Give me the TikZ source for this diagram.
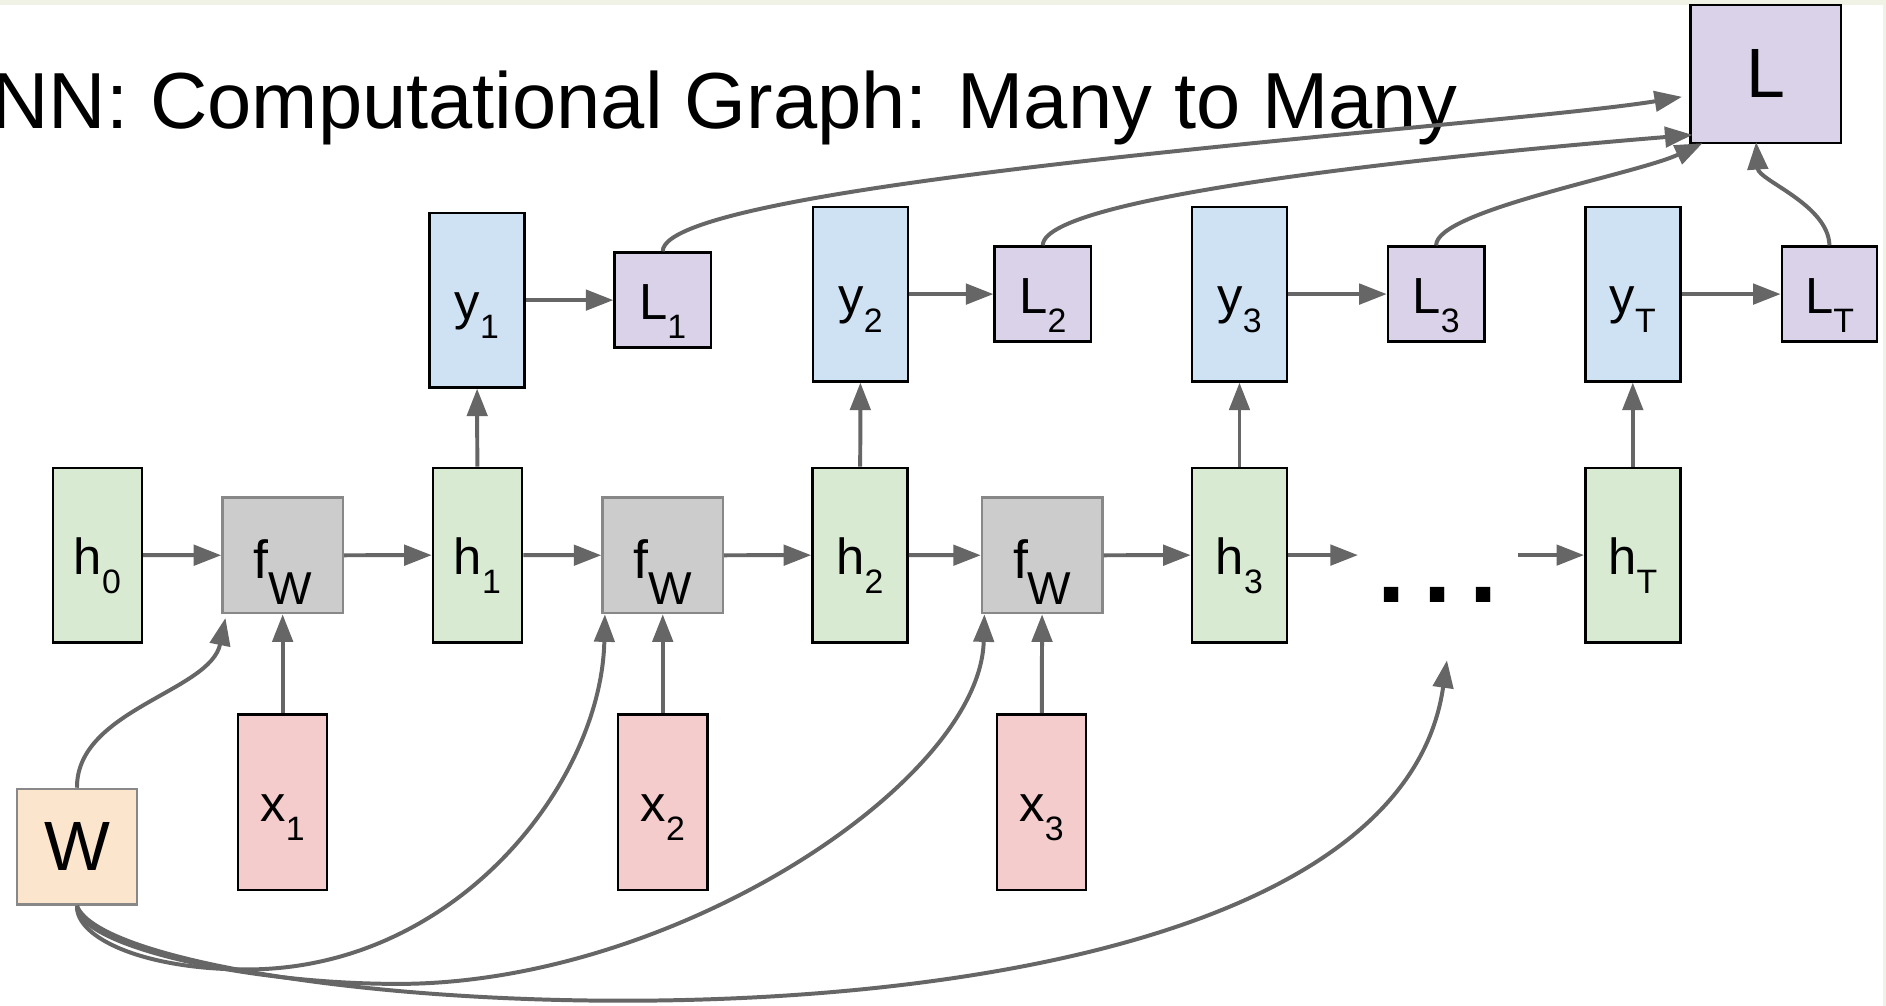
\documentclass[tikz,border=0pt]{standalone}
\usepackage{fontspec}
\setmainfont{Liberation Sans}
\usetikzlibrary{arrows.meta}
\definecolor{hgreen}{HTML}{D9EAD3}
\definecolor{fgray}{HTML}{CCCCCC}
\definecolor{yblue}{HTML}{CFE2F3}
\definecolor{lpurple}{HTML}{D9D2E9}
\definecolor{xpink}{HTML}{F4CCCC}
\definecolor{wpeach}{HTML}{FCE5CD}
\definecolor{arrgray}{HTML}{666666}
\definecolor{edgegray}{HTML}{888888}
\definecolor{stripbg}{RGB}{239,242,229}
\newcommand{\lsub}[1]{\raisebox{-4.6pt}[0pt][0pt]{\fontsize{8}{9}\selectfont #1}}
\newcommand{\wsub}[1]{\raisebox{-6.1pt}[0pt][0pt]{\fontsize{10.9}{12}\selectfont #1}}
\begin{document}
\begin{tikzpicture}[x=0.01cm, y=-0.01cm]
% Styles
\tikzset{
box/.style={draw, line width=0.6pt, rectangle, inner sep=0pt, font=\fontsize{12}{14}\selectfont, text height=9pt, text depth=0pt},
hid/.style={box, fill=hgreen, minimum width=0.79cm, minimum height=1.45cm},
fun/.style={box, draw=edgegray, fill=fgray, minimum width=1cm, minimum height=0.96cm, font=\fontsize{12.7}{14}\selectfont, text height=11pt},
outp/.style={box, fill=yblue, minimum width=0.79cm, minimum height=1.45cm},
loss/.style={box, fill=lpurple, minimum width=0.8cm, minimum height=0.79cm},
inp/.style={box, fill=xpink, minimum width=0.74cm, minimum height=1.46cm},
big/.style={box, minimum width=1.25cm, minimum height=1.15cm, font=\fontsize{16.5}{18}\selectfont, text height=, text depth=},
arr/.style={draw=arrgray, line width=0.94pt, -{Triangle[length=6.5pt, width=4.8pt]}}
}
\useasboundingbox (0,0) rectangle (1568,836);
\fill[stripbg] (0,0) rectangle (1568,836);
\fill[white] (0,4) rectangle (1565.5,836);
\clip (0,0) rectangle (1568,836);
% Title
\node[anchor=base west, inner sep=0pt, font=\fontsize{18.8}{23}\selectfont] (title) at (-8,106.6) {NN: Computational Graph: Many to Many};
% Hidden states and cells
\node[hid, minimum width=0.74cm] (h0) at (81,461.5) {h\lsub{0}};
\node[fun] (fW1) at (235,461.7) {f\wsub{W}};
\node[hid, minimum width=0.74cm] (h1) at (397,461.5) {h\lsub{1}};
\node[fun] (fW2) at (551,461.7) {f\wsub{W}};
\node[hid] (h2) at (715,461.5) {h\lsub{2}};
\node[fun] (fW3) at (866.5,461.7) {f\wsub{W}};
\node[hid] (h3) at (1030.5,461.5) {h\lsub{3}};
\node[anchor=base, inner sep=0pt, font=\fontsize{24}{28}\selectfont\bfseries] (dots) at (1195.4,501) {.\hspace{0.146cm}.\hspace{0.146cm}.};
\node[hid] (hT) at (1357.5,461.5) {h\lsub{T}};
\coordinate (dotsin) at (1129,461.5);
\coordinate (dotsout) at (1262,461.5);
\coordinate (dotsw) at (1203,549);
% Outputs and losses
\node[outp] (y1) at (396.5,249.5) {y\lsub{1}};
\node[loss] (L1) at (551,249.5) {L\lsub{1}};
\node[outp] (y2) at (715.5,244.5) {y\lsub{2}};
\node[loss] (L2) at (867,244.5) {L\lsub{2}};
\node[outp] (y3) at (1030.5,244.5) {y\lsub{3}};
\node[loss] (L3) at (1194,244.5) {L\lsub{3}};
\node[outp] (yT) at (1357.5,244.5) {y\lsub{T}};
\node[loss, minimum width=0.79cm] (LT) at (1521,244.5) {L\lsub{T}};
\node[big, fill=lpurple] (L) at (1468,61.5) {L};
% Inputs and weights
\node[inp] (x1) at (235,667) {x\lsub{1}};
\node[inp] (x2) at (551,667) {x\lsub{2}};
\node[inp] (x3) at (866,667) {x\lsub{3}};
\node[big, draw=edgegray, fill=wpeach, minimum width=1cm, minimum height=0.96cm] (W) at (64,704) {W};
% Straight arrows
\draw[arr] (h0) -- (fW1);
\draw[arr] (fW1) -- (h1);
\draw[arr] (h1) -- (fW2);
\draw[arr] (fW2) -- (h2);
\draw[arr] (h2) -- (fW3);
\draw[arr] (fW3) -- (h3);
\draw[arr] (h3) -- (dotsin);
\draw[arr] (dotsout) -- (hT);
\draw[arr] (x1) -- (fW1);
\draw[arr] (x2) -- (fW2);
\draw[arr] (x3) -- (fW3);
\draw[arr] (h1) -- (y1);
\draw[arr] (h2) -- (y2);
\draw[arr] (h3) -- (y3);
\draw[arr] (hT) -- (yT);
\draw[arr] (y1) -- (L1);
\draw[arr] (y2) -- (L2);
\draw[arr] (y3) -- (L3);
\draw[arr] (yT) -- (LT);
% W to every cell
\draw[arr] (W.north) .. controls (63.5,590) and (175,575) .. ([shift={(3.5,3)}]fW1.south west);
\draw[arr] (W.south) .. controls (63,780) and (120,806) .. (205,806)
  .. controls (380,806) and (500,650) .. ([shift={(3,0)}]fW2.south west);
\draw[arr] (W.south) .. controls (63,785) and (200,818) .. (331,818)
  .. controls (560,818) and (815,650) .. ([shift={(3,0)}]fW3.south west);
\draw[arr] (W.south) .. controls (100,850) and (1150,920) .. (dotsw);
% Losses to L
\draw[arr] (L1.north) .. controls (551,150) and (1250,105) .. ([shift={(-6,19)}]L.west);
\draw[arr] (L2.north) .. controls (867,160) and (1250,125) .. ([shift={(2.7,-8)}]L.south west);
\draw[arr] (L3.north) .. controls (1194,175) and (1360,145) .. ([shift={(11,-1)}]L.south west);
\draw[arr] (LT.north) .. controls (1520,170) and (1462,150) .. ([shift={(-8,-2)}]L.south);
\end{tikzpicture}
\end{document}
